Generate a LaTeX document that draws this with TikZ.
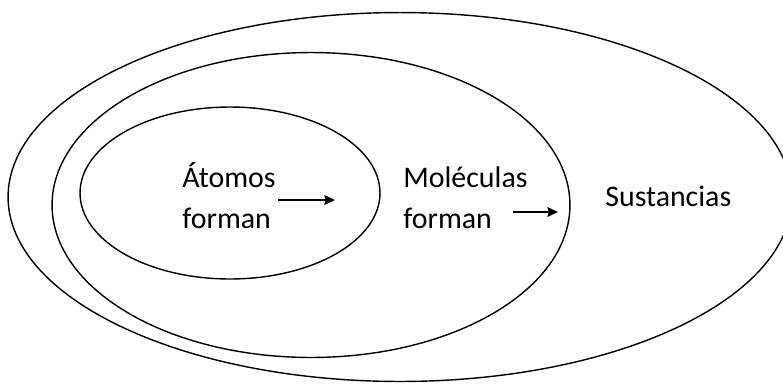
\documentclass[tikz,border=0pt]{standalone}
\usepackage{fontspec}
\setmainfont{Carlito}
\usepackage{tikz}
\usetikzlibrary{shapes,arrows.meta,positioning}

\begin{document}
\begin{tikzpicture}[
    x=0.02cm, y=-0.02cm,
    ring/.style={ellipse, draw, line width=0.8pt, inner sep=0pt},
    label/.style={align=left, inner sep=0pt, font=\fontsize{17}{23.3}\selectfont},
    arrow/.style={-{Stealth[length=6pt,width=5.5pt,inset=0.8pt]}, line width=1.2pt}
]
\useasboundingbox (0,0) rectangle (783,383);

% Sustancias
\node[ring, minimum width=15.68cm, minimum height=7.38cm] (sust) at (400,197) {};

% Moleculas
\node[ring, minimum width=10.36cm, minimum height=6.1cm] (mol) at (311,205) {};

% Atomos
\node[ring, minimum width=6cm, minimum height=3.44cm] (atom) at (230,193) {};

% Labels
\node[label, anchor=base west] (atomos) at (182,228) {Átomos\\forman};
\node[label, anchor=base west] (moleculas) at (403,228) {Moléculas\\forman};
\node[label, anchor=base west] (sustancias) at (605,206) {Sustancias};

% Arrows
\coordinate (a1s) at (278,200);
\coordinate (a1e) at (335,200);
\coordinate (a2s) at (513,212);
\coordinate (a2e) at (558,212);
\draw[arrow] (a1s) -- (a1e);
\draw[arrow] (a2s) -- (a2e);

\end{tikzpicture}
\end{document}
